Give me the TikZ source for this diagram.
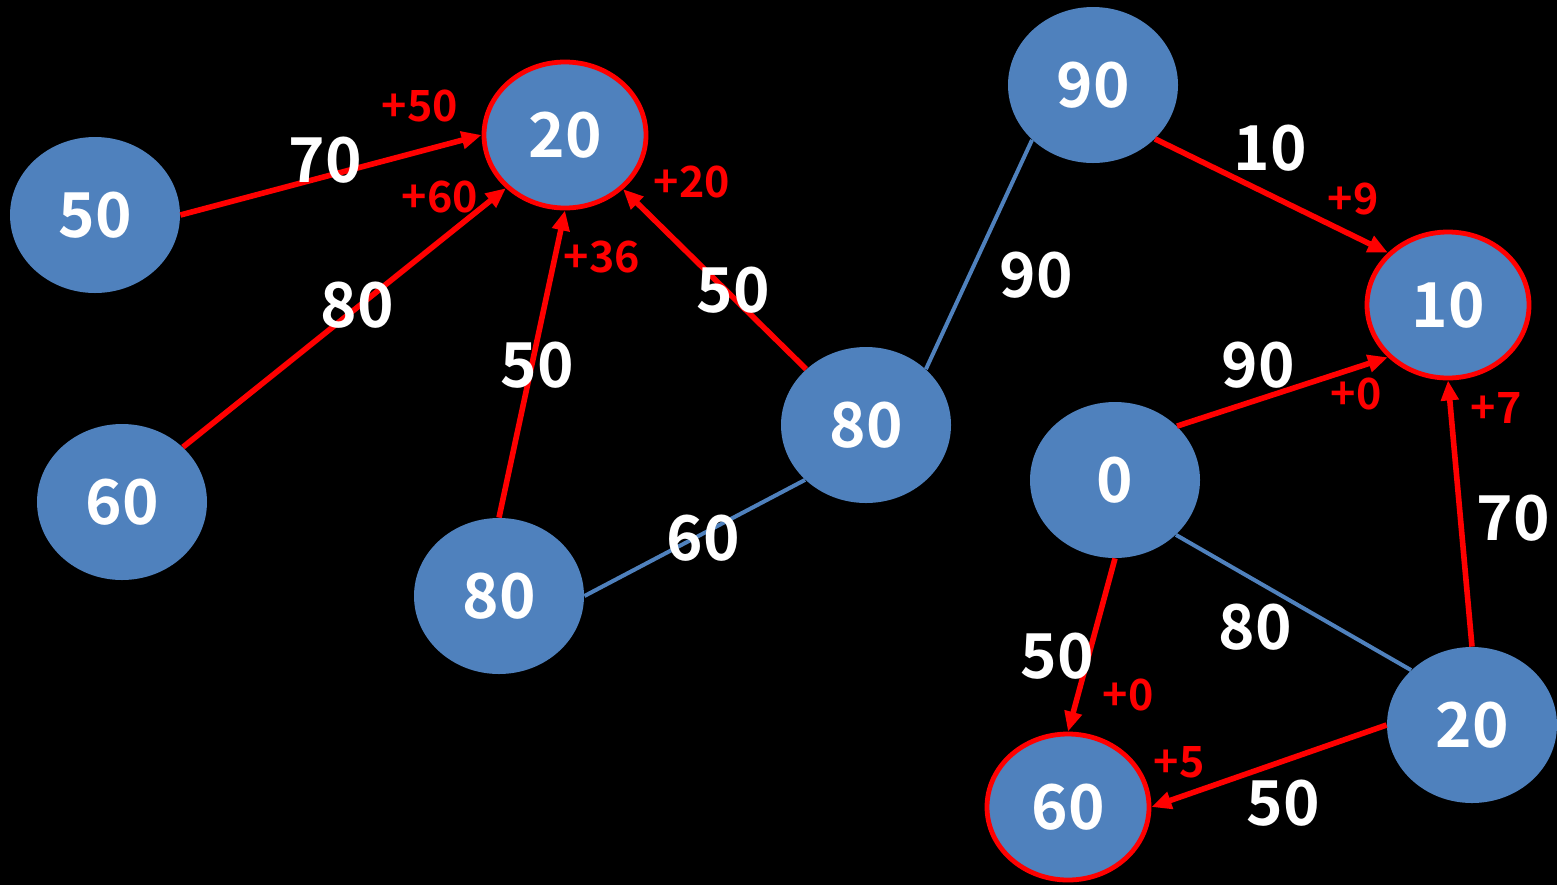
\documentclass[tikz,border=0pt]{standalone}
\usepackage{fontspec}
\setmainfont{Noto Sans CJK KR}[BoldFont={* Bold}]
\usetikzlibrary{arrows.meta,shapes.geometric}
\definecolor{nodeblue}{HTML}{4F81BD}
\definecolor{hot}{HTML}{FF0000}
\tikzset{
  vertex/.style={ellipse, fill=nodeblue, minimum width=85pt, minimum height=78pt, inner sep=0pt,
    text=white, font=\bfseries\fontsize{31}{33}\selectfont},
  marked/.style={vertex, draw=hot, line width=2.4pt, minimum width=81pt, minimum height=73pt},
  path/.style={draw=hot, line width=2.8pt, -{Triangle[length=10pt,width=8.5pt]}},
  plain/.style={draw=nodeblue, line width=2pt},
  weight/.style={text=white, font=\bfseries\fontsize{31}{33}\selectfont, inner sep=0pt},
  gain/.style={text=hot, font=\bfseries\fontsize{21.5}{23}\selectfont, inner sep=0pt}
}
\begin{document}
\begin{tikzpicture}[x=0.5pt, y=-0.5pt]
\fill[black] (0,0) rectangle (1557,885);
\useasboundingbox (0,0) rectangle (1557,885);

% vertices
\node[vertex] (a) at (95,215) {50};
\node[marked] (b) at (565,135) {20};
\node[vertex] (c) at (122,502) {60};
\node[vertex] (d) at (499,596) {80};
\node[vertex] (e) at (866,425) {80};
\node[vertex] (f) at (1093,85) {90};
\node[marked] (g) at (1448,305) {10};
\node[vertex] (h) at (1115,480) {0};
\node[vertex] (i) at (1472,725) {20};
\node[marked] (j) at (1068,807) {60};

% undirected edges
\draw[plain] (e.43) -- (f.222);
\draw[plain] (e.222) -- (d.east);
\draw[plain] (h.-42) -- (i.138);

% chosen edges
\draw[path] (a.east) -- (b.west);
\draw[path] (c.42) -- (b.222);
\draw[path] (d.north) -- (b.south);
\draw[path] (e.137) -- (b.-43);
\draw[path] (f.-41) -- (g.139);
\draw[path] (h.41) -- (g.221);
\draw[path] (i.north) -- (g.south);
\draw[path] (h.south) -- (j.north);
\draw[path] (i.west) -- (j.east);

% edge weights
\node[weight] (w1) at (325,160) {70};
\node[weight] (w2) at (357,305) {80};
\node[weight] (w3) at (537,365) {50};
\node[weight] (w4) at (733,290) {50};
\node[weight] (w5) at (1036,275) {90};
\node[weight] (w6) at (703,538) {60};
\node[weight] (w7) at (1270,148) {10};
\node[weight] (w8) at (1258,365) {90};
\node[weight] (w9) at (1513,518) {70};
\node[weight] (w10) at (1057,656) {50};
\node[weight] (w11) at (1255,627) {80};
\node[weight] (w12) at (1283,803) {50};

% gains
\node[gain] (g1) at (420,106) {+50};
\node[gain] (g2) at (440,197) {+60};
\node[gain] (g3) at (602,257) {+36};
\node[gain] (g4) at (692,182) {+20};
\node[gain] (g5) at (1353,199) {+9};
\node[gain] (g6) at (1356,394) {+0};
\node[gain] (g7) at (1496,408) {+7};
\node[gain] (g8) at (1128,695) {+0};
\node[gain] (g9) at (1179,762) {+5};
\end{tikzpicture}
\end{document}
